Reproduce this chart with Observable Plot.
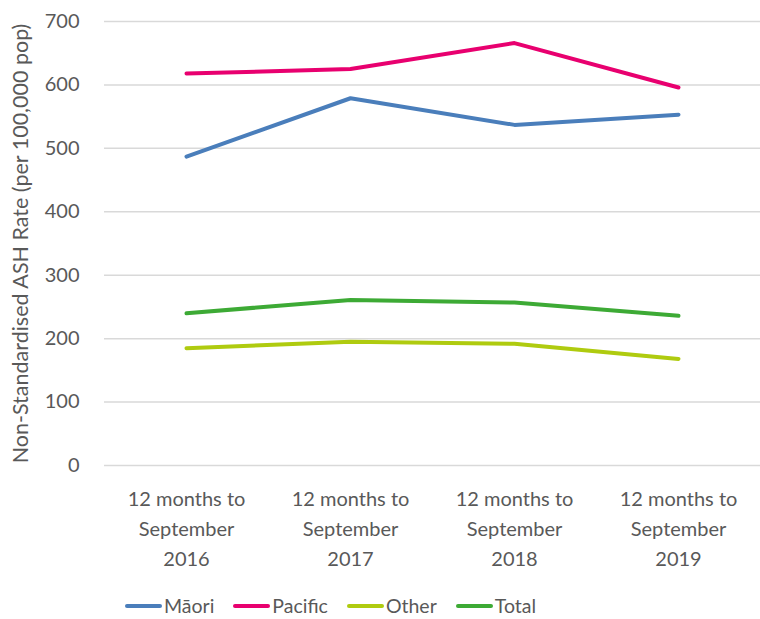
<!DOCTYPE html>
<html>
<head>
<meta charset="utf-8">
<script src="https://cdn.jsdelivr.net/npm/d3@7"></script>
<script src="https://cdn.jsdelivr.net/npm/@observablehq/plot@0.6"></script>
<style>
  html, body { margin: 0; padding: 0; background: #fff; }
  body { width: 760px; height: 619px; overflow: hidden; font-family: Lato, "Liberation Sans", sans-serif; }
  #legend { display: flex; justify-content: flex-start; gap: 19px; margin-top: 14px; padding-left: 125px; font-size: 19.5px; color: #595959; }
  .item { display: flex; align-items: center; }
  .sw { width: 37px; height: 4px; border-radius: 2px; margin-right: 2px; }
  g[aria-label="y-axis label"] text { font-size: 21.5px; }
</style>
</head>
<body>
<div id="chart"></div>
<div id="legend"></div>
<script>
const categories = ["12 months to September 2016", "12 months to September 2017", "12 months to September 2018", "12 months to September 2019"];
const tickLabels = ["12 months to\nSeptember\n2016", "12 months to\nSeptember\n2017", "12 months to\nSeptember\n2018", "12 months to\nSeptember\n2019"];
const seriesNames = ["Māori", "Pacific", "Other", "Total"];
const seriesColors = ["#4a7ebb", "#e8006f", "#afcb0f", "#3daa35"];
const maori = [487, 579, 537, 553];
const pacific = [618, 625, 666, 596];
const other = [185, 195, 192, 168];
const total = [240, 261, 257, 236];
const yTicks = [0, 100, 200, 300, 400, 500, 600, 700];

const valuesBySeries = [maori, pacific, other, total];
const data = [];
seriesNames.forEach((s, si) => {
  categories.forEach((c, ci) => data.push({series: s, category: c, value: valuesBySeries[si][ci]}));
});

const chart = Plot.plot({
  width: 760,
  height: 580,
  marginLeft: 104,
  marginRight: 0,
  marginTop: 21,
  marginBottom: 115,
  style: {fontFamily: "Lato, 'Liberation Sans', sans-serif", fontSize: "19px", color: "#595959"},
  x: {type: "point", domain: categories, padding: 0.5},
  y: {domain: [0, 700]},
  color: {domain: seriesNames, range: seriesColors},
  marks: [
    Plot.ruleY(yTicks, {stroke: "#d9d9d9", strokeWidth: 1.5}),
    Plot.axisY({ticks: yTicks, tickSize: 0, tickPadding: 25, fontSize: 20,
      label: "Non-Standardised ASH Rate (per 100,000 pop)", labelAnchor: "center", labelOffset: 92, labelArrow: "none"}),
    Plot.axisX({tickSize: 0, tickPadding: 19, fontSize: 20, lineHeight: 1.5,
      tickFormat: (d) => tickLabels[categories.indexOf(d)], label: null}),
    Plot.line(data, {x: "category", y: "value", z: "series", stroke: "series", strokeWidth: 4, strokeLinecap: "round", strokeLinejoin: "round"})
  ]
});
document.getElementById("chart").appendChild(chart);

const legend = document.getElementById("legend");
seriesNames.forEach((s, i) => {
  const it = document.createElement("div");
  it.className = "item";
  const sw = document.createElement("span");
  sw.className = "sw";
  sw.style.background = seriesColors[i];
  const t = document.createElement("span");
  t.textContent = s;
  it.appendChild(sw); it.appendChild(t);
  legend.appendChild(it);
});
</script>
</body>
</html>
